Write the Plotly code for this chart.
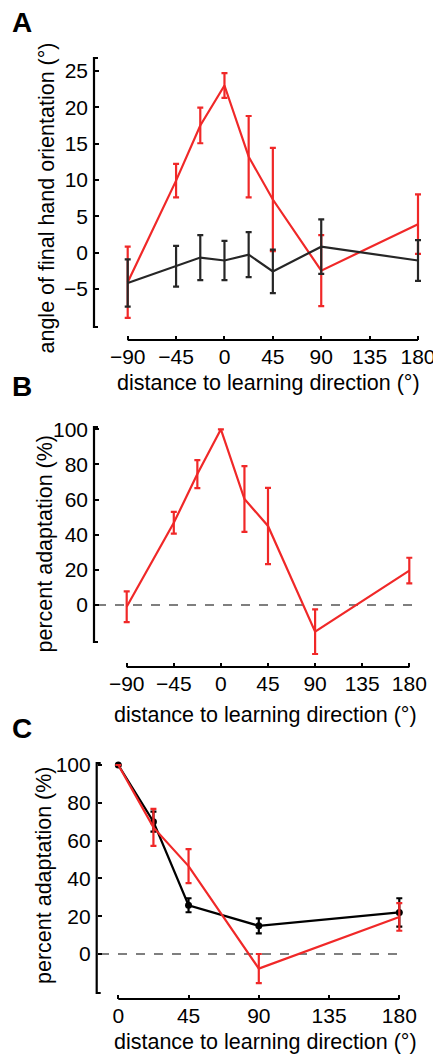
import plotly.graph_objects as go

# ---------------- data ----------------
A_x = [-90, -45, -22.5, 0, 22.5, 45, 90, 180]
A_red = [-4.1, 9.9, 17.5, 23.0, 13.2, 7.3, -2.5, 3.9]
A_red_err = [4.9, 2.3, 2.45, 1.7, 5.6, 7.1, 4.9, 4.1]
A_black = [-4.2, -1.9, -0.7, -1.1, -0.3, -2.6, 0.8, -1.1]
A_black_err = [3.25, 2.8, 3.1, 2.7, 3.1, 3.0, 3.75, 2.8]

B_x = [-90, -45, -22.5, 0, 22.5, 45, 90, 180]
B_red = [-1.0, 46.8, 74.5, 100.0, 60.3, 45.0, -15.2, 19.6]
B_red_err = [8.7, 6.2, 8.0, 0.0, 18.7, 21.7, 12.7, 7.3]

C_x = [0, 22.5, 45, 90, 180]
C_black = [100.0, 70.0, 25.8, 14.9, 22.0]
C_black_err = [0.0, 5.3, 3.7, 4.0, 7.5]
C_red = [100.0, 67.0, 46.5, -7.7, 19.6]
C_red_err = [0.0, 9.8, 9.0, 7.7, 7.3]

A_xticks = [-90, -45, 0, 45, 90, 135, 180]
A_yticks = [-5, 0, 5, 10, 15, 20, 25]
B_xticks = [-90, -45, 0, 45, 90, 135, 180]
B_yticks = [0, 20, 40, 60, 80, 100]
C_xticks = [0, 45, 90, 135, 180]
C_yticks = [0, 20, 40, 60, 80, 100]

XTITLE = "distance to learning direction (°)"
YTITLE_A = "angle of final hand orientation (°)"
YTITLE_BC = "percent adaptation (%)"

# ---------------- layout helpers ----------------
# the page body has an 8px margin: the figure starts at (8, 8) in the window
OFF = 8
W, H = 441 - OFF, 1056 - OFF
FONT = "Liberation Sans, Arial, Helvetica, sans-serif"
RED = "#f02828"
DARK = "#262626"


def px2x(p):
    return (p - OFF) / W


def py2y(p):
    return 1 - (p - OFF) / H


def rng(cal, d0, d1):
    (v0, p0), (v1, p1) = cal
    s = (v1 - v0) / (p1 - p0)
    return [v0 + (d0 - p0) * s, v0 + (d1 - p0) * s]


panels = [
    dict(  # A
        xcal=((-90, 127.7), (180, 418.0)), ycal=((0, 252.5), (25, 71.0)),
        xdom=(92, 436), ydom=(40, 336),
        yaxis_px=94, yaxis_top=58, yaxis_bot=327,
        xaxis_py=340, xaxis_l=127.7, xaxis_r=418.0,
        xticks=A_xticks, yticks=A_yticks,
    ),
    dict(  # B
        xcal=((-90, 126.7), (180, 409.3)), ycal=((0, 605.0), (100, 429.3)),
        xdom=(92, 436), ydom=(410, 665),
        yaxis_px=94, yaxis_top=427, yaxis_bot=642,
        xaxis_py=667, xaxis_l=126.7, xaxis_r=409.3,
        xticks=B_xticks, yticks=B_yticks,
    ),
    dict(  # C
        xcal=((0, 118.3), (180, 399.3)), ycal=((0, 954.0), (100, 765.0)),
        xdom=(95, 436), ydom=(750, 997),
        yaxis_px=96.7, yaxis_top=763, yaxis_bot=993,
        xaxis_py=999, xaxis_l=118.3, xaxis_r=399.3,
        xticks=C_xticks, yticks=C_yticks,
    ),
]

fig = go.Figure()


def add(xs, ys, errs, color, n, markers=False):
    fig.add_trace(go.Scatter(
        x=xs, y=ys, xaxis=f"x{n}" if n > 1 else "x", yaxis=f"y{n}" if n > 1 else "y",
        mode="lines+markers" if markers else "lines",
        line=dict(color=color, width=2.2),
        marker=dict(size=7, color=color),
        error_y=dict(type="data", array=errs, visible=True, color=color, thickness=2.2, width=3),
        showlegend=False, hoverinfo="skip",
    ))


add(A_x, A_red, A_red_err, RED, 1)
add(A_x, A_black, A_black_err, DARK, 1)
add(B_x, B_red, B_red_err, RED, 2)
add(C_x, C_black, C_black_err, "black", 3, markers=True)
add(C_x, C_red, C_red_err, RED, 3)

layout = dict(
    width=W, height=H, autosize=False,
    margin=dict(l=0, r=0, t=0, b=0),
    paper_bgcolor="white", plot_bgcolor="white",
    font=dict(family=FONT, size=21, color="black"),
    showlegend=False,
)
shapes = []
annotations = []

for i, p in enumerate(panels, start=1):
    xa = "xaxis" if i == 1 else f"xaxis{i}"
    ya = "yaxis" if i == 1 else f"yaxis{i}"
    layout[xa] = dict(
        domain=[px2x(p["xdom"][0]), px2x(p["xdom"][1])],
        range=rng(p["xcal"], p["xdom"][0], p["xdom"][1]),
        anchor="free", position=py2y(p["xaxis_py"]),
        showline=False, showgrid=False, zeroline=False,
        ticks="inside", ticklen=4, tickwidth=2, tickcolor="black",
        tickvals=p["xticks"], ticklabelstandoff=2,
        tickfont=dict(size=21, family=FONT, color="black"),
    )
    layout[ya] = dict(
        domain=[py2y(p["ydom"][1]), py2y(p["ydom"][0])],
        range=rng(p["ycal"], p["ydom"][1], p["ydom"][0]),
        anchor="free", position=px2x(p["yaxis_px"]),
        showline=False, showgrid=False, zeroline=False,
        ticks="inside", ticklen=4, tickwidth=2, tickcolor="black",
        tickvals=p["yticks"], ticklabelstandoff=6,
        tickfont=dict(size=21, family=FONT, color="black"),
    )
    # axis lines (offset, MATLAB-like)
    x0 = px2x(p["yaxis_px"])
    x3 = px2x(p["yaxis_px"] + 4)
    yt, yb = py2y(p["yaxis_top"]), py2y(p["yaxis_bot"])
    shapes.append(dict(type="path", xref="paper", yref="paper",
                       path=f"M {x3},{yt} L {x0},{yt} L {x0},{yb} L {x3},{yb}",
                       line=dict(color="black", width=2.2)))
    yy = py2y(p["xaxis_py"])
    shapes.append(dict(type="line", xref="paper", yref="paper",
                       x0=px2x(p["xaxis_l"]), x1=px2x(p["xaxis_r"]), y0=yy, y1=yy,
                       line=dict(color="black", width=2.2)))

# dashed zero lines in B and C
shapes.append(dict(type="line", xref="paper", yref="y2", x0=px2x(97), x1=px2x(413), y0=0, y1=0,
                   line=dict(color="#555555", width=1.5, dash="dash"), layer="below"))
shapes.append(dict(type="line", xref="paper", yref="y3", x0=px2x(100), x1=px2x(405), y0=0, y1=0,
                   line=dict(color="#555555", width=1.5, dash="dash"), layer="below"))

# panel letters
for letter, cy in [("A", 23), ("B", 386), ("C", 728)]:
    annotations.append(dict(text=f"<b>{letter}</b>", x=px2x(22), y=py2y(cy), xref="paper", yref="paper",
                            xanchor="center", yanchor="middle", showarrow=False,
                            font=dict(size=28, family=FONT, color="black")))

# y titles
for text, cx, cy in [(YTITLE_A, 47, 198.5),
                     (YTITLE_BC, 44, 543.5),
                     (YTITLE_BC, 44, 875)]:
    annotations.append(dict(text=text, x=px2x(cx), y=py2y(cy), xref="paper", yref="paper",
                            xanchor="center", yanchor="middle", textangle=-90, showarrow=False,
                            font=dict(size=21.5, family=FONT, color="black")))

# x titles
for cx, cy in [(268, 383), (265, 715), (265, 1042)]:
    annotations.append(dict(text=XTITLE, x=px2x(cx), y=py2y(cy), xref="paper", yref="paper",
                            xanchor="center", yanchor="middle", showarrow=False,
                            font=dict(size=21.5, family=FONT, color="black")))

layout["shapes"] = shapes
layout["annotations"] = annotations
fig.update_layout(**layout)

fig.write_html("out.html")
